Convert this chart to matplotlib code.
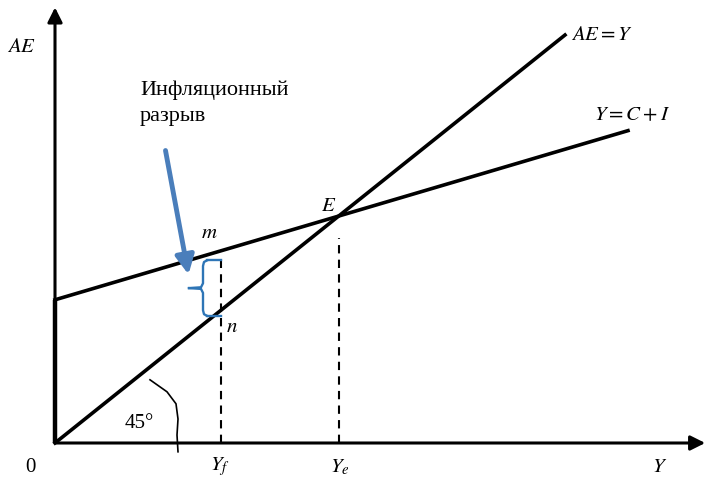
import matplotlib.pyplot as plt
import numpy as np

# модель: AE = Y и Y = C + I (единицы условные)
ae_end = 510
ci_intercept = 179
ci_slope = 0.369
ci_end = 573
y_f = 166
y_e = ci_intercept / (1 - ci_slope)
x_axis_end = 650
y_axis_end = 545

labels_x = ['0', '$Y_f$', '$Y_e$', '$Y$']

plt.rcParams['font.family'] = ['Liberation Serif', 'DejaVu Serif']
plt.rcParams['mathtext.fontset'] = 'stix'

fig = plt.figure(figsize=(7.08, 4.79), dpi=100)
ax = fig.add_axes([0, 0, 1, 1])
ax.set_xlim(-55, 653)
ax.set_ylim(-45, 553.75)
ax.axis('off')

def ci(x):
    return ci_intercept + ci_slope * np.asarray(x)

# оси
ax.annotate('', xy=(x_axis_end + 3, 0), xytext=(-2, 0),
            arrowprops=dict(arrowstyle='-|>', color='black', lw=2.2, mutation_scale=22))
ax.annotate('', xy=(0, y_axis_end + 3), xytext=(0, -2),
            arrowprops=dict(arrowstyle='-|>', color='black', lw=2.2, mutation_scale=22))
ax.plot([0, 0], [0, ci_intercept], color='black', lw=3.2, solid_capstyle='butt')

# линии
xs = np.array([0, ae_end])
ax.plot(xs, xs, color='black', lw=2.6)
xc = np.array([0, ci_end])
ax.plot(xc, ci(xc), color='black', lw=2.6)

# пунктиры
ax.plot([y_f, y_f], [0, ci(y_f) - 10], color='black', lw=1.5, ls=(0, (4, 3)))
ax.plot([y_e, y_e], [0, ci(y_e) - 28], color='black', lw=1.5, ls=(0, (4, 3)))

# скобка (инфляционный разрыв)
top = ci(y_f) - 12
bot = y_f - 7
mid = (top + bot) / 2
bx = y_f - 18
bc = '#2e75b6'
ax.plot([y_f, bx + 4], [top, top], color=bc, lw=1.7)
ax.plot([bx + 4, bx + 1, bx, bx, bx - 2, bx - 14], [top, top - 2, top - 7, mid + 6, mid + 1, mid],
        color=bc, lw=1.7)
ax.plot([bx - 14, bx - 2, bx, bx, bx + 1, bx + 4], [mid, mid - 1, mid - 6, bot + 7, bot + 2, bot],
        color=bc, lw=1.7)
ax.plot([bx + 4, y_f], [bot, bot], color=bc, lw=1.7)

# стрелка
ax.annotate('', xy=(y_f - 32, ci(y_f) - 33), xytext=(y_f - 56, 369),
            arrowprops=dict(arrowstyle='-|>', color='#4a7ebb', lw=3.5, mutation_scale=28))

# дуга 45°
arc_x = [95, 112, 121, 123, 122, 123]
arc_y = [79, 64, 49, 30, 10, -11]
ax.plot(arc_x, arc_y, color='black', lw=1.2)
ax.text(70, 25, '45°', fontsize=15, ha='left', va='center')

# подписи
fs = 15
ax.text(-25, -31, labels_x[0], fontsize=15, ha='center', va='center')
ax.text(y_f - 1, -30, labels_x[1], fontsize=fs, ha='center', va='center')
ax.text(y_e + 1, -30, labels_x[2], fontsize=fs, ha='center', va='center')
ax.text(605, -30, labels_x[3], fontsize=fs, ha='center', va='center')
ax.text(-33, 494, '$AE$', fontsize=fs, ha='center', va='center')
ax.text(ae_end + 6, 510, '$AE = Y$', fontsize=fs, ha='left', va='center')
ax.text(ci_end - 34, 409, '$Y = C + I$', fontsize=fs, ha='left', va='center')
ax.text(y_e - 10, 296, '$E$', fontsize=fs, ha='center', va='center')
ax.text(y_f - 12, 262, '$m$', fontsize=fs, ha='center', va='center')
ax.text(y_f + 11, 144, '$n$', fontsize=fs, ha='center', va='center')
ax.text(85, 425, 'Инфляционный\nразрыв', fontsize=16, ha='left', va='center',
        linespacing=1.5)

fig.savefig('out.png', dpi=100)
